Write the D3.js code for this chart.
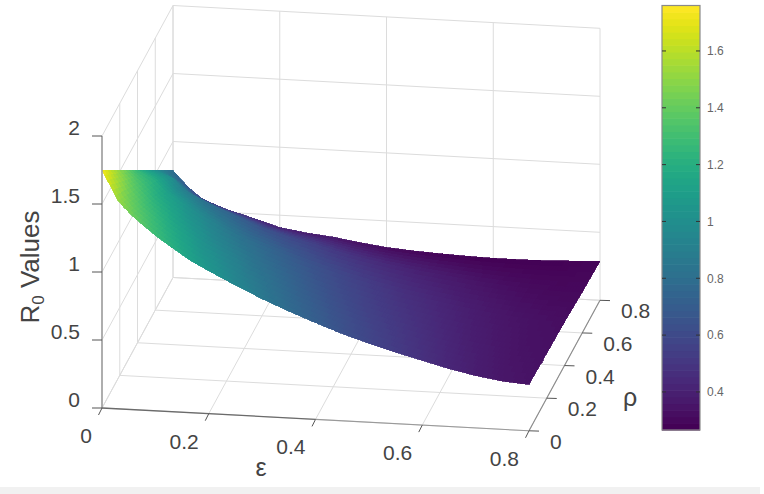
<!DOCTYPE html>
<html><head><meta charset="utf-8">
<script src="https://cdn.jsdelivr.net/npm/d3@7"></script>
<style>html,body{margin:0;padding:0;background:#fff}svg{display:block}text{font-family:"Liberation Sans",Arial,sans-serif}</style>
</head><body><div id="c"></div>
<script>
const epsGrid=[0,0.03,0.055,0.08,0.105,0.13,0.165,0.2,0.25,0.3,0.35,0.4,0.45,0.5,0.55,0.6,0.65,0.7,0.75,0.8];
const rhoGrid=[0,0.2,0.4,0.6,0.8];
const r0Rho00=[1.75,1.53,1.43,1.35,1.275,1.21,1.12,1.05,0.955,0.865,0.785,0.71,0.64,0.58,0.525,0.475,0.425,0.385,0.355,0.34];
const r0Rho02=[1.51,1.37,1.28,1.21,1.14,1.08,1.0,0.94,0.85,0.775,0.70,0.635,0.575,0.525,0.48,0.435,0.395,0.365,0.34,0.33];
const r0Rho04=[1.27,1.21,1.12,1.06,1.0,0.945,0.875,0.815,0.745,0.68,0.62,0.565,0.515,0.47,0.435,0.40,0.37,0.345,0.33,0.32];
const r0Rho06=[1.03,0.99,0.90,0.85,0.80,0.76,0.705,0.65,0.595,0.55,0.50,0.46,0.425,0.395,0.37,0.345,0.325,0.31,0.30,0.30];
const r0Rho08=[0.787,0.665,0.59,0.55,0.515,0.49,0.45,0.41,0.38,0.36,0.33,0.305,0.29,0.28,0.272,0.267,0.267,0.27,0.278,0.287];
const groundTicks=[0,0.2,0.4,0.6,0.8];
const zTicks=[0,0.5,1,1.5,2];
const cbTicks=[0.4,0.6,0.8,1,1.2,1.4,1.6];
const zLabels=["0","0.5","1","1.5","2"];
const cbDomain=[0.266,1.76];

const W=764,H=494;
const svg=d3.select("#c").append("svg").attr("width",W).attr("height",H);
const eX=d3.scaleLinear().domain([0,0.8]).range([0,427]);
const eY=d3.scaleLinear().domain([0,0.8]).range([0,22.8]);
const rX=d3.scaleLinear().domain([0,0.8]).range([0,71]);
const rY=d3.scaleLinear().domain([0,0.8]).range([0,-130.5]);
const zY=d3.scaleLinear().domain([0,2]).range([0,-272]);
const ox=102,oy=408;
const P=(e,r,z)=>[ox+eX(e)+rX(r),oy+eY(e)+rY(r)+zY(z)];
const color=d3.scaleSequential(d3.interpolateViridis).domain(cbDomain);
const gridC="#dcdcdc";
const line=(a,b,c,w)=>svg.append("line").attr("x1",a[0]).attr("y1",a[1]).attr("x2",b[0]).attr("y2",b[1]).attr("stroke",c).attr("stroke-width",w);

groundTicks.forEach(t=>{
  line(P(t,0,0),P(t,0.8,0),gridC,1);
  line(P(0,t,0),P(0.8,t,0),gridC,1);
  line(P(t,0.8,0),P(t,0.8,2),gridC,1);
  line(P(0,t,0),P(0,t,2),gridC,1);
});
zTicks.forEach(z=>{
  line(P(0,0,z),P(0,0.8,z),gridC,1);
  line(P(0,0.8,z),P(0.8,0.8,z),gridC,1);
});

const rows=[r0Rho00,r0Rho02,r0Rho04,r0Rho06,r0Rho08];
const interpE=rows.map(v=>d3.scaleLinear().domain(epsGrid).range(v));
const R0=(e,r)=>{
  const s=Math.min(rhoGrid.length-2,Math.floor(r/0.2+1e-9));
  const t=(r-rhoGrid[s])/0.2;
  return interpE[s](e)*(1-t)+interpE[s+1](e)*t;
};
const surf=svg.append("g").attr("shape-rendering","crispEdges");
const ne=160,nr=24;
for(let j=0;j<nr;j++){
  for(let i=0;i<ne;i++){
    const e0=0.8*i/ne,e1=0.8*(i+1)/ne,r0=0.8*j/nr,r1=0.8*(j+1)/nr;
    const pts=[[e0,r0],[e1,r0],[e1,r1],[e0,r1]].map(p=>P(p[0],p[1],R0(p[0],p[1])));
    const c=color(R0((e0+e1)/2,(r0+r1)/2));
    surf.append("polygon").attr("points",pts.map(p=>p.join(",")).join(" ")).attr("fill",c).attr("stroke",c).attr("stroke-width",0.8);
  }
}

const axC="#6b6b6b";
line(P(0,0,0),P(0,0,2),"#999",1.5);
line(P(0,0,0),P(0.4,0,0),axC,1.3);
line(P(0.4,0,0),P(0.8,0,0),"#9a9a9a",1.1);
line(P(0.8,0,0),P(0.8,0.8,0),"#8a8a8a",1.1);
const tc="#555";
const fs=21;
groundTicks.forEach(t=>{
  const a=P(t,0,0); line(a,[a[0]-3.5,a[1]+7],tc,1);
  const b=P(0.8,t,0); line(b,[b[0]+10,b[1]+0.3],tc,1);
  svg.append("text").attr("x",a[0]-10).attr("y",a[1]+35).attr("text-anchor","end").attr("font-size",fs).attr("fill","#444").text(t===0?"0":d3.format(".1f")(t));
  svg.append("text").attr("x",b[0]+21).attr("y",b[1]+18).attr("text-anchor","start").attr("font-size",fs).attr("fill","#444").text(t===0?"0":d3.format(".1f")(t));
});
zTicks.forEach((z,i)=>{
  const a=P(0,0,z); line(a,[a[0]-10,a[1]],tc,1);
  svg.append("text").attr("x",a[0]-22).attr("y",a[1]-1).attr("text-anchor","end").attr("font-size",fs).attr("fill","#444").text(zLabels[i]);
});

svg.append("text").attr("x",261).attr("y",476).attr("text-anchor","middle").attr("font-size",25).attr("fill","#444").text("ε");
svg.append("text").attr("x",630).attr("y",406).attr("text-anchor","middle").attr("font-size",25).attr("fill","#444").text("ρ");
const yl=svg.append("text").attr("transform","translate(39,267) rotate(-90)").attr("text-anchor","middle").attr("font-size",26).attr("fill","#444");
yl.append("tspan").text("R");
yl.append("tspan").attr("font-size",17).attr("dy",5).text("0");
yl.append("tspan").attr("dy",-5).text(" Values");

const cbY=d3.scaleLinear().domain(cbDomain).range([430,5.5]);
const cbX0=662,cbX1=700,steps=64;
const cb=svg.append("g");
d3.range(steps).forEach(i=>{
  const v0=cbDomain[0]+(cbDomain[1]-cbDomain[0])*i/steps,v1=cbDomain[0]+(cbDomain[1]-cbDomain[0])*(i+1)/steps;
  cb.append("rect").attr("x",cbX0).attr("width",cbX1-cbX0).attr("y",cbY(v1)).attr("height",cbY(v0)-cbY(v1)+0.6).attr("fill",color((v0+v1)/2));
});
svg.append("rect").attr("x",cbX0).attr("y",5.5).attr("width",cbX1-cbX0).attr("height",424.5).attr("fill","none").attr("stroke","#8a8a8a").attr("stroke-width",1.2);
const axisG=svg.append("g").attr("transform",`translate(${cbX1},0)`).call(d3.axisRight(cbY).tickValues(cbTicks).tickSize(0).tickPadding(7).tickFormat(d=>d===1?"1":d3.format(".1f")(d)));
axisG.select(".domain").remove();
axisG.selectAll("text").attr("font-size",12).attr("font-family","Liberation Sans").attr("fill","#666");
cbTicks.forEach(t=>{
  line([cbX0,cbY(t)],[cbX0+4,cbY(t)],"#333",1);
  line([cbX1-4,cbY(t)],[cbX1,cbY(t)],"#333",1);
});
svg.append("rect").attr("x",0).attr("y",487).attr("width",760).attr("height",7).attr("fill","#f1f1f1");
</script></body></html>
